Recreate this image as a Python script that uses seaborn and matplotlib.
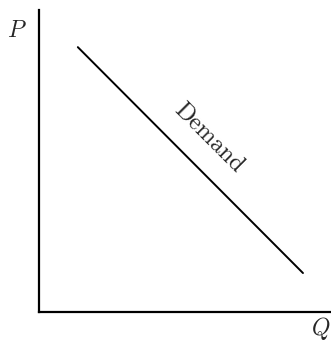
import matplotlib
matplotlib.use("Agg")
import matplotlib.pyplot as plt
import seaborn as sns
import pandas as pd

# demand curve end points (quantity, price)
quantity = [1.33, 9.04]
price = [8.77, 1.29]
curve_label = "Demand"
x_label = "Q"
y_label = "P"

sns.set_style("white")
plt.rcParams["mathtext.fontset"] = "cm"
plt.rcParams["font.family"] = ["cmr10", "DejaVu Serif"]
plt.rcParams["axes.formatter.use_mathtext"] = True

df = pd.DataFrame({"Q": quantity, "P": price})

fig = plt.figure(figsize=(3.31, 3.43), dpi=100)
ax = fig.add_axes([39 / 331, 31 / 343, 292 / 331, 302 / 343])

sns.lineplot(data=df, x="Q", y="P", color="black", linewidth=1.4, ax=ax)

ax.set_xlim(0, 10)
ax.set_ylim(0, 10)
ax.set_xticks([])
ax.set_yticks([])
ax.set_xlabel("")
ax.set_ylabel("")
for side in ["top", "right"]:
    ax.spines[side].set_visible(False)
for side in ["left", "bottom"]:
    ax.spines[side].set_color("black")
    ax.spines[side].set_linewidth(1.6)

ax.text(5.82, 5.75, curve_label, rotation=-45, rotation_mode="anchor",
        ha="center", va="center", fontsize=17.5)
ax.text(-0.75, 9.3, f"${y_label}$", ha="center", va="center", fontsize=17)
ax.text(9.65, -0.55, f"${x_label}$", ha="center", va="center", fontsize=17)

fig.savefig("out.png", dpi=100)
